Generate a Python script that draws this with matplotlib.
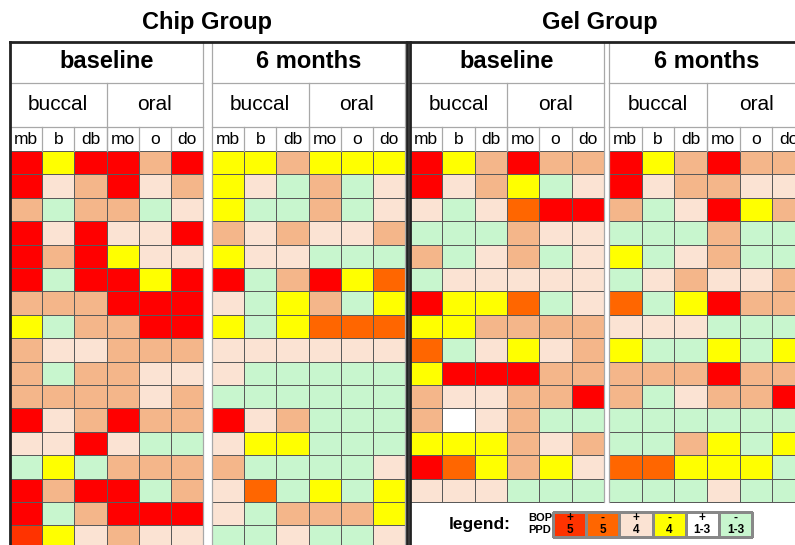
import numpy as np
import matplotlib.pyplot as plt
from matplotlib.colors import ListedColormap

plt.rcParams['font.family'] = ['Liberation Sans', 'DejaVu Sans']

# colour codes: X=BOP+ PPD5, O=BOP- PPD5, P=BOP+ PPD4, Y=BOP- PPD4,
# W=BOP+ PPD1-3, G=BOP- PPD1-3, R=red, T=tan
codes = ['R', 'X', 'O', 'T', 'P', 'Y', 'W', 'G']
colors = ['#FF0000', '#FF3300', '#FF6600', '#F4B68A', '#FBE3D3', '#FFFF00', '#FFFFFF', '#C8F6CE']
cmap = ListedColormap(colors)

sites = ['mb', 'b', 'db', 'mo', 'o', 'do']
groups = ['Chip Group', 'Gel Group']
times = ['baseline', '6 months']
sides = ['buccal', 'oral']

chip_baseline = [
    "RYRRTR", "RPTRPT", "TGTTGP", "RPRPPR", "RTRYPP", "RGRRYR",
    "TTTRRR", "YGTTRR", "TPPTTT", "TGTTPP", "TTTTPT", "RPTRTT",
    "PPRPGG", "GYGTTT", "RTRRGT", "RGTRRR", "XYPTPP",
]
chip_6m = [
    "YYTYYY", "YPGTGP", "YGGTGP", "TPTPPT", "YPPGGG", "RGTRYO",
    "PGYTGY", "YGYOOO", "PPPPPP", "PGGGGG", "GGGGGG", "RPTGGG",
    "PYYGGG", "TGGGGP", "POGYGY", "PGTTTY", "GGPGGP",
]
gel_baseline = [
    "RYTRTT", "RPTYGP", "PGPORR", "GGGTPP", "TGPTGP", "GPPPPP",
    "RYYOGP", "YYTTTT", "OGPYPT", "YRRRTT", "TPPTTR", "TWPTGG",
    "YYYTPT", "ROYTYP", "PPPGGG",
]
gel_6m = [
    "RYTRTT", "RPTTPP", "TGPRYT", "GGGTGG", "YGPTGG", "GPTPPT",
    "OGYRTT", "PPPGGG", "YGGYGY", "TTTRTT", "TGPTTR", "GGGGGG",
    "GGTYGY", "OOYYYG", "GGGPGG",
]

legend_codes = "XOPYWG"
legend_bop = ['+', '-', '+', '-', '+', '-']
legend_ppd = ['5', '5', '4', '4', '1-3', '1-3']

def to_grid(rows):
    return np.array([[codes.index(c) for c in r] for r in rows])

fig = plt.figure(figsize=(7.95, 5.45), dpi=100)
ax = fig.add_axes([0, 0, 1, 1])
ax.set_xlim(0, 795)
ax.set_ylim(545, 0)
ax.axis('off')

grid_top = 151
row_h = 23.4
hdr_top, hdr1, hdr2 = 42, 83, 127
line_gray = '#a8a8a8'

panels = [
    (chip_baseline, 10, 203), (chip_6m, 212, 405),
    (gel_baseline, 410, 604), (gel_6m, 609, 805),
]

for data, x0, x1 in panels:
    grid = to_grid(data)
    nrow = grid.shape[0]
    xe = np.linspace(x0, x1, 7)
    ye = grid_top + row_h * np.arange(nrow + 1)
    ax.pcolormesh(xe, ye, grid, cmap=cmap, vmin=-0.5, vmax=len(codes) - 0.5,
                  edgecolors='#5a5a5a', linewidth=0.6)
    bottom = ye[-1]
    # header boxes
    ax.plot([x0, x1], [hdr1, hdr1], color=line_gray, lw=0.9)
    ax.plot([x0, x1], [hdr2, hdr2], color=line_gray, lw=0.9)
    ax.plot([x0, x0], [hdr_top, bottom], color=line_gray, lw=0.9)
    ax.plot([x1, x1], [hdr_top, bottom], color=line_gray, lw=0.9)
    ax.plot([xe[3], xe[3]], [hdr1, grid_top], color=line_gray, lw=0.9)
    for xv in xe[1:-1]:
        ax.plot([xv, xv], [hdr2, grid_top], color=line_gray, lw=0.9)
    for i, s in enumerate(sites):
        ax.text((xe[i] + xe[i + 1]) / 2, (hdr2 + grid_top) / 2 + 1, s,
                ha='center', va='center', fontsize=12.5)
    for i, s in enumerate(sides):
        ax.text((xe[3 * i] + xe[3 * i + 3]) / 2, (hdr1 + hdr2) / 2, s,
                ha='center', va='center', fontsize=15)

ax.text(207, 22, groups[0], ha='center', va='center', fontsize=17, fontweight='bold')
ax.text(600, 22, groups[1], ha='center', va='center', fontsize=17, fontweight='bold')

for (data, x0, x1), t in zip(panels, times * 2):
    xc = (x0 + x1) / 2 if x1 < 795 else (x0 + 805) / 2
    ax.text(xc, 62, t, ha='center', va='center', fontsize=17, fontweight='bold')

# thick group frames
ax.plot([10, 407], [42, 42], color='#222222', lw=2)
ax.plot([10, 10], [42, 545], color='#222222', lw=2)
ax.plot([407, 407], [42, 545], color='#222222', lw=2)
ax.plot([410, 795], [42, 42], color='#222222', lw=2)
ax.plot([410, 410], [42, 545], color='#222222', lw=2)

# legend
lx = np.linspace(553, 752, 7)
ly = np.array([512, 537])
lgrid = np.array([[codes.index(c) for c in legend_codes]])
ax.pcolormesh(lx, ly, lgrid, cmap=cmap, vmin=-0.5, vmax=len(codes) - 0.5,
              edgecolors='#888888', linewidth=1)
for i in range(6):
    xc = (lx[i] + lx[i + 1]) / 2
    ax.text(xc, 518, legend_bop[i], ha='center', va='center', fontsize=8.5, fontweight='bold')
    ax.text(xc, 530, legend_ppd[i], ha='center', va='center', fontsize=8.5, fontweight='bold')
ax.text(480, 525, 'legend:', ha='center', va='center', fontsize=12.5, fontweight='bold')
ax.text(540, 518, 'BOP', ha='center', va='center', fontsize=8, fontweight='bold')
ax.text(540, 530, 'PPD', ha='center', va='center', fontsize=8, fontweight='bold')

fig.savefig('out.png', dpi=100)
